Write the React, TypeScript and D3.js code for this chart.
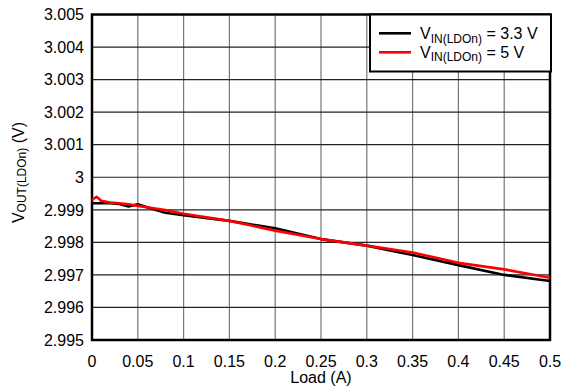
import React from "react";
import * as d3 from "d3";

const loadA = [0, 0.005, 0.01, 0.02, 0.03, 0.04, 0.05, 0.06, 0.08, 0.1, 0.15, 0.2, 0.25, 0.3, 0.35, 0.4, 0.45, 0.5];
const vin33 = [2.9992, 2.9992, 2.9992, 2.9992, 2.99918, 2.9991, 2.99917, 2.99908, 2.99891, 2.99883, 2.99866, 2.99843, 2.9981, 2.9979, 2.99761, 2.9973, 2.997, 2.99681];
const vin5 = [2.9993, 2.9994, 2.99928, 2.99922, 2.9992, 2.99917, 2.99912, 2.99908, 2.99899, 2.99888, 2.99866, 2.99836, 2.9981, 2.9979, 2.99769, 2.99737, 2.99717, 2.99691];
const xTicks = [0, 0.05, 0.1, 0.15, 0.2, 0.25, 0.3, 0.35, 0.4, 0.45, 0.5];
const yTicks = [2.995, 2.996, 2.997, 2.998, 2.999, 3.0, 3.001, 3.002, 3.003, 3.004, 3.005];
const xTickLabels = ["0", "0.05", "0.1", "0.15", "0.2", "0.25", "0.3", "0.35", "0.4", "0.45", "0.5"];
const yTickLabels = ["2.995", "2.996", "2.997", "2.998", "2.999", "3", "3.001", "3.002", "3.003", "3.004", "3.005"];
const seriesNames = ["3.3 V", "5 V"];
const seriesColors = ["#000000", "#ff0000"];

export default function App() {
  const W = 573, H = 389;
  const L = 92, R = 550, T = 14.5, B = 340;
  const x = d3.scaleLinear().domain([0, 0.5]).range([L, R]);
  const y = d3.scaleLinear().domain([2.995, 3.005]).range([B, T]);
  const line = d3.line<number>().x((_, i) => x(loadA[i])).y((d) => y(d));
  const font = "'Liberation Sans', Arial, sans-serif";
  const series = [vin33, vin5];
  const fs = 16;
  const sub = 12;
  return (
    <svg width={W} height={H} style={{ position: "absolute", left: 0, top: 0, background: "#fff" }} fontFamily={font}>
      <rect x={0} y={0} width={W} height={H} fill="#fff" />
      {xTicks.map((t, i) => (
        <line key={"gx" + i} x1={x(t)} x2={x(t)} y1={T} y2={B} stroke="#777" strokeWidth={1.2} />
      ))}
      {yTicks.map((t, i) => (
        <line key={"gy" + i} x1={L} x2={R} y1={y(t)} y2={y(t)} stroke="#222" strokeWidth={1.2} />
      ))}
      <rect x={L} y={T} width={R - L} height={B - T} fill="none" stroke="#000" strokeWidth={2.5} />
      {series.map((s, k) => (
        <path key={"s" + k} d={line(s) || ""} fill="none" stroke={seriesColors[k]} strokeWidth={2.6} strokeLinejoin="round" />
      ))}
      {yTicks.map((t, i) => (
        <text key={"ty" + i} x={L - 8} y={y(t)} dy="0.36em" textAnchor="end" fontSize={fs} fill="#000">
          {yTickLabels[i]}
        </text>
      ))}
      {xTicks.map((t, i) => (
        <text key={"tx" + i} x={x(t)} y={B + 26.5} textAnchor="middle" fontSize={fs} fill="#000">
          {xTickLabels[i]}
        </text>
      ))}
      <text x={(L + R) / 2} y={B + 43} textAnchor="middle" fontSize={fs} fill="#000">Load (A)</text>
      <text transform={`translate(24,172.5) rotate(-90)`} textAnchor="middle" fontSize={fs} fill="#000">
        V<tspan fontSize={sub} dy={2}>OUT(LDOn)</tspan><tspan dy={-2}> (V)</tspan>
      </text>
      <rect x={370} y={14.5} width={181} height={57} fill="#fff" stroke="#000" strokeWidth={2} />
      {seriesNames.map((n, k) => (
        <g key={"lg" + k}>
          <line x1={379} x2={411} y1={33.3 + k * 19} y2={33.3 + k * 19} stroke={seriesColors[k]} strokeWidth={2.6} />
          <text x={420} y={39.3 + k * 18.5} fontSize={fs} fill="#000">
            V<tspan fontSize={sub} dy={3.5}>IN(LDOn)</tspan><tspan dy={-3.5}> = {n}</tspan>
          </text>
        </g>
      ))}
    </svg>
  );
}
